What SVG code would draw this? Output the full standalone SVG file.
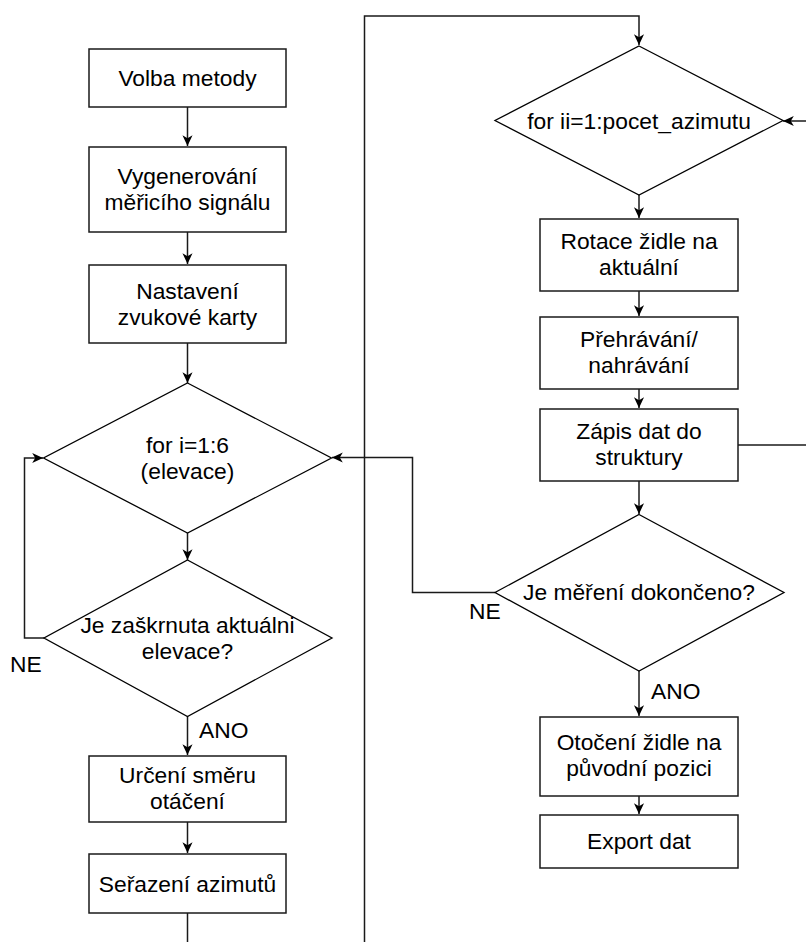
<svg xmlns="http://www.w3.org/2000/svg" width="806" height="942" viewBox="0 0 806 942">
<style>
.box{fill:#fff;stroke:#1a1a1a;stroke-width:1.5}
.dia{fill:#fff;stroke:#000;stroke-width:1.3}
.ln{fill:none;stroke:#1a1a1a;stroke-width:1.5}
text{font-family:"Liberation Sans",Arial,sans-serif;font-size:22.8px;fill:#000;text-anchor:middle}
.lbl{text-anchor:start}
</style>
<defs>
<marker id="arr" markerUnits="userSpaceOnUse" markerWidth="12" markerHeight="12" viewBox="0 0 10 10" refX="9" refY="5" orient="auto">
<path d="M0,0.8 L9,5 L0,9.2 L2.5,5 z" fill="#000"/>
</marker>
</defs>
<rect width="806" height="942" fill="#fff"/>
<g id="connectors">
<line class="ln" x1="187.5" y1="107" x2="187.5" y2="146" marker-end="url(#arr)"/>
<line class="ln" x1="187.5" y1="232" x2="187.5" y2="264" marker-end="url(#arr)"/>
<line class="ln" x1="187.5" y1="343" x2="187.5" y2="383" marker-end="url(#arr)"/>
<line class="ln" x1="187.5" y1="533" x2="187.5" y2="560" marker-end="url(#arr)"/>
<polyline class="ln" points="44,638 24.5,638 24.5,458 43,458" marker-end="url(#arr)"/>
<line class="ln" x1="187.5" y1="716" x2="187.5" y2="755" marker-end="url(#arr)"/>
<line class="ln" x1="187.5" y1="822" x2="187.5" y2="853" marker-end="url(#arr)"/>
<line class="ln" x1="187.5" y1="913" x2="187.5" y2="942"/>
<polyline class="ln" points="364.5,942 364.5,16 639,16 639,45" marker-end="url(#arr)"/>
<line class="ln" x1="806" y1="121" x2="783" y2="121" marker-end="url(#arr)"/>
<line class="ln" x1="639" y1="195" x2="639" y2="218" marker-end="url(#arr)"/>
<line class="ln" x1="639" y1="291" x2="639" y2="316" marker-end="url(#arr)"/>
<line class="ln" x1="639" y1="389" x2="639" y2="408" marker-end="url(#arr)"/>
<line class="ln" x1="738" y1="445" x2="806" y2="445"/>
<line class="ln" x1="639" y1="481" x2="639" y2="514" marker-end="url(#arr)"/>
<polyline class="ln" points="495,592.5 412.5,592.5 412.5,457.5 332,457.5" marker-end="url(#arr)"/>
<line class="ln" x1="639" y1="671" x2="639" y2="716" marker-end="url(#arr)"/>
<line class="ln" x1="639" y1="796" x2="639" y2="814" marker-end="url(#arr)"/>
<text class="lbl" x="10" y="672">NE</text>
<text class="lbl" x="199" y="738">ANO</text>
<text class="lbl" x="469" y="619">NE</text>
<text class="lbl" x="651" y="699">ANO</text>
</g>
<g id="volba"><rect class="box" x="89" y="49" width="197" height="58"/><text x="187.5" y="86">Volba metody</text></g>
<g id="vygenerovani"><rect class="box" x="89" y="147" width="197" height="85"/><text x="187.5" y="184">Vygenerování</text><text x="187.5" y="210">měřicího signálu</text></g>
<g id="nastaveni"><rect class="box" x="89" y="265" width="197" height="78"/><text x="187.5" y="298.5">Nastavení</text><text x="187.5" y="324.5">zvukové karty</text></g>
<g id="for-i"><polygon class="dia" points="187.5,383 331.5,458 187.5,533 43.5,458"/><text x="187.5" y="452.5">for i=1:6</text><text x="187.5" y="478.5">(elevace)</text></g>
<g id="je-zaskrnuta"><polygon class="dia" points="187.5,560 332,638 187.5,716.5 44,638"/><text x="187.5" y="633">Je zaškrnuta aktuálni</text><text x="187.5" y="658.5">elevace?</text></g>
<g id="urceni"><rect class="box" x="89" y="756" width="197" height="66"/><text x="187.5" y="782.5">Určení směru</text><text x="187.5" y="808.5">otáčení</text></g>
<g id="serazeni"><rect class="box" x="89" y="854" width="197" height="59"/><text x="187.5" y="891.5">Seřazení azimutů</text></g>
<g id="for-ii"><polygon class="dia" points="639,46 783,120.5 639,195 495,120.5"/><text x="639" y="128.5">for ii=1:pocet_azimutu</text></g>
<g id="rotace"><rect class="box" x="540" y="219" width="198" height="72"/><text x="639" y="249">Rotace židle na</text><text x="639" y="275">aktuální</text></g>
<g id="prehravani"><rect class="box" x="540" y="317" width="198" height="72"/><text x="639" y="347">Přehrávání/</text><text x="639" y="373">nahrávání</text></g>
<g id="zapis"><rect class="box" x="540" y="409" width="198" height="72"/><text x="639" y="439">Zápis dat do</text><text x="639" y="465">struktury</text></g>
<g id="je-mereni"><polygon class="dia" points="639,514.5 784,592.5 639,671 495,592.5"/><text x="639" y="600">Je měření dokončeno?</text></g>
<g id="otoceni"><rect class="box" x="540" y="717" width="198" height="79"/><text x="639" y="750">Otočení židle na</text><text x="639" y="776">původní pozici</text></g>
<g id="export"><rect class="box" x="540" y="815" width="198" height="53"/><text x="639" y="849">Export dat</text></g>
</svg>
